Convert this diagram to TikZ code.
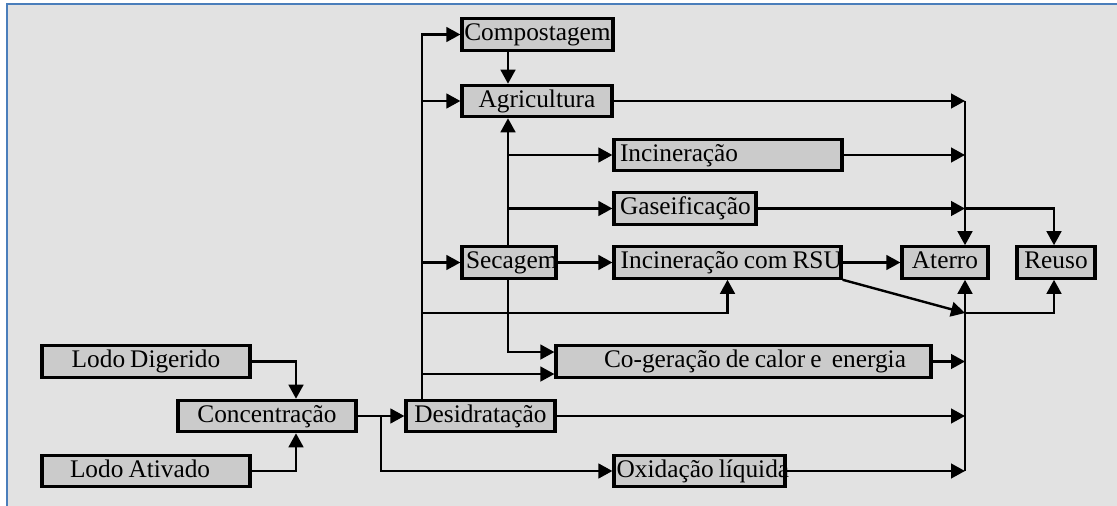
\documentclass[tikz,border=0pt]{standalone}
\usepackage{fontspec}
\setmainfont{Liberation Serif}[WordSpace=0.8]
\usetikzlibrary{arrows.meta}
\definecolor{bg}{HTML}{E2E2E2}
\definecolor{boxfill}{HTML}{CBCBCB}
\definecolor{frameblue}{HTML}{4A7EBB}
\begin{document}
\begin{tikzpicture}[x=0.75pt,y=-0.75pt,
  box/.style={draw, line width=2.4pt, fill=boxfill, inner xsep=0pt, inner ysep=0pt,
    minimum height=23.5pt, text height=13.5pt, text depth=4pt,
    font=\fontsize{19}{21}\selectfont},
  conn/.style={line width=1.8pt},
  arr/.style={conn, -{Triangle[length=10.5pt,width=11pt]}}]
\useasboundingbox (0,0) rectangle (1117,506);
\fill[white] (0,0) rectangle (1117,506);
\fill[bg] (7,4) rectangle (1117,506);
\draw[frameblue, line width=1.5pt] (7,506) -- (7,4) -- (1117,4);

% nodes
\node[box] (comp) at (537.5,34.5) {\makebox[113.25pt][c]{Compostagem}};
\node[box] (agri) at (537,101) {\makebox[112.5pt][c]{Agricultura}};
\node[box] (inc) at (728,155) {\makebox[171pt][l]{\hspace*{4.5pt}Incineração}};
\node[box] (gas) at (685,208.5) {\makebox[106.5pt][l]{\hspace*{4.5pt}Gaseificação}};
\node[box] (sec) at (509,262.5) {\makebox[70.5pt][l]{\hspace*{3pt}Secagem}};
\node[box] (rsu) at (727.5,262.5) {\makebox[170.25pt][l]{\hspace*{5pt}Incineração com RSU}};
\node[box] (ater) at (945,262.5) {\makebox[64.5pt][c]{Aterro}};
\node[box] (reuso) at (1056,262.5) {\makebox[58.5pt][c]{Reuso}};
\node[box] (cog) at (743.5,361.5) {\makebox[281.25pt][l]{\hspace*{36pt}Co-geração de calor e\hspace{0.4em}energia}};
\node[box] (lodoD) at (146,361.5) {\makebox[156pt][c]{Lodo Digerido}};
\node[box] (conc) at (267,416) {\makebox[133.5pt][c]{Concentração}};
\node[box] (des) at (480.5,416) {\makebox[111.75pt][c]{Desidratação}};
\node[box] (lodoA) at (146,471) {\makebox[156pt][l]{\hspace*{21pt}Lodo Ativado}};
\node[box] (oxi) at (699.5,471) {\makebox[128.25pt][l]{\hspace*{2pt}Oxidação líquida}};

% helper coordinates
\coordinate (trk) at (422,0);
\coordinate (sv) at (508,0);
\coordinate (col) at (965,0);
\coordinate (rx) at (1054,0);
\coordinate (br) at (381,0);
\coordinate (lx) at (296,0);
\coordinate (lvl) at (0,313);
\coordinate (cogU) at ([yshift=7.1pt]cog.west);
\coordinate (cogL) at ([yshift=-9.4pt]cog.west);

% trunk from Desidratacao
\draw[arr] (des.north -| trk) |- (comp.west);
\draw[arr] (trk |- agri.west) -- (agri.west);
\draw[arr] (trk |- sec.west) -- (sec.west);
\draw[arr] (trk |- lvl) -| (rsu.south);
\draw[arr] (trk |- cogL) -- (cogL);

% compostagem / secagem column
\draw[arr] (comp.south -| sv) -- (agri.north -| sv);
\draw[arr] (sec.north -| sv) -- (agri.south -| sv);
\draw[arr] (sv |- inc.west) -- (inc.west);
\draw[arr] (sv |- gas.west) -- (gas.west);
\draw[arr] (sec.south -| sv) |- (cogU);
\draw[arr] (sec.east) -- (rsu.west);
\draw[arr] (rsu.east) -- (ater.west);

% upper collector
\draw[arr] (agri.east) -- (agri.east -| col);
\draw[arr] (inc.east) -- (inc.east -| col);
\draw[arr] (gas.east) -- (gas.east -| col);
\draw[arr] (agri.east -| col) -- (ater.north -| col);
\draw[arr] (gas.east -| col) -| (reuso.north -| rx);

% lower collector
\draw[arr] (oxi.east -| col) -- (ater.south -| col);
\draw[arr] (cog.east) -- (cog.east -| col);
\draw[arr] (des.east) -- (des.east -| col);
\draw[arr] (oxi.east) -- (oxi.east -| col);
\draw[arr] (rsu.south east) -- (col |- lvl);
\draw[arr] (col |- lvl) -| (reuso.south -| rx);

% left part
\draw[arr] (conc.east) -- (des.west);
\draw[arr] (conc.east -| br) |- (oxi.west);
\draw[arr] (lodoD.east) -| (conc.north -| lx);
\draw[arr] (lodoA.east) -| (conc.south -| lx);
\end{tikzpicture}
\end{document}
